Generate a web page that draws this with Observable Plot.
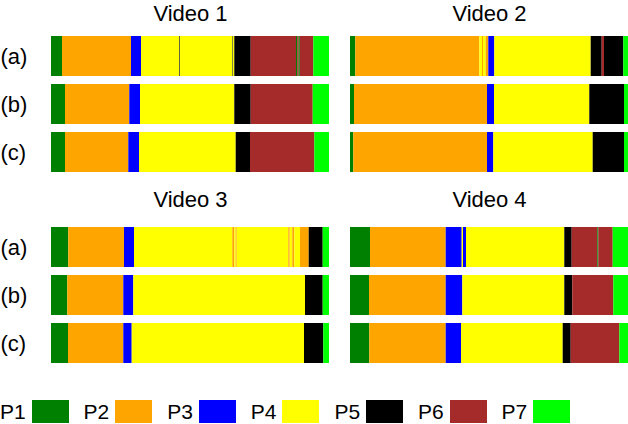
<!DOCTYPE html>
<html><head><meta charset="utf-8">
<script src="https://cdn.jsdelivr.net/npm/d3@7"></script>
<script src="https://cdn.jsdelivr.net/npm/@observablehq/plot@0.6"></script>
<style>
body{margin:0;background:#fff;font-family:"Liberation Sans",Arial,sans-serif;}
#chart{width:628px;height:424px;position:relative;overflow:hidden;background:#fff}
#legend{position:absolute;left:0;top:385px;width:628px;height:39px}
.item{position:absolute;top:15px;height:23px;display:flex;align-items:center;gap:6px;font-size:21px;color:#000;line-height:1}
.sw{width:37px;height:23px}
</style></head><body><div id="chart"></div>
<script>
const phases = ["P1","P2","P3","P4","P5","P6","P7"];
const colors = ["#008000","#ffa500","#0000ff","#ffff00","#000000","#a52a2a","#00ff00"];
const rows = ["(a)","(b)","(c)"];
const videos = ["Video 1","Video 2","Video 3","Video 4"];
const videoCols = ["L","R","L","R"];
const videoPanelRows = ["T","T","B","B"];

// segments as [phase, end position] (position units: 0..278 across the bar)
const video1a = [["P1",11],["P2",80],["P3",90],["P4",128.4],["P5",129.0],["P4",181.2],["P5",181.8],["P4",183.3],["P5",199.7],["P6",245],["P1",246.2],["P6",247.6],["P1",248.8],["P6",262.3],["P7",278]];
const video1b = [["P1",14],["P2",78.3],["P3",89],["P4",183.3],["P5",199.7],["P6",261.7],["P7",278]];
const video1c = [["P1",14],["P2",77.3],["P3",88],["P4",184.7],["P5",199],["P6",263.3],["P7",278]];
const video2a = [["P1",5.3],["P2",129.3],["P4",132],["P2",133],["P4",135.7],["P2",138.3],["P3",144.3],["P4",240.7],["P5",251.7],["P6",254],["P5",273.3],["P7",278]];
const video2b = [["P1",4],["P2",137],["P3",144],["P4",239.3],["P5",274],["P7",278]];
const video2c = [["P1",3.3],["P2",137],["P3",143.3],["P4",242.7],["P5",274],["P7",278]];
const video3a = [["P1",17.3],["P2",73],["P3",83],["P4",181.3],["P2",183.3],["P4",184.7],["P2",185.7],["P4",237.3],["P2",238.7],["P4",241.3],["P2",243.3],["P4",249],["P2",257.7],["P5",271.7],["P7",278]];
const video3b = [["P1",16.3],["P2",72.3],["P3",82.3],["P4",254],["P5",271.7],["P7",278]];
const video3c = [["P1",17],["P2",72.3],["P3",80.7],["P4",253],["P5",272.3],["P7",278]];
const video4a = [["P1",20],["P2",95.7],["P3",111.7],["P4",113],["P3",116],["P4",214.3],["P5",221.7],["P6",247.3],["P1",248.3],["P6",262.7],["P7",278]];
const video4b = [["P1",19],["P2",95.7],["P3",112.3],["P4",214.3],["P5",222.3],["P6",263.3],["P7",278]];
const video4c = [["P1",19.3],["P2",95.7],["P3",111],["P4",212.7],["P5",220.7],["P6",269.3],["P7",278]];

const videoRows = [
  [video1a, video1b, video1c],
  [video2a, video2b, video2c],
  [video3a, video3b, video3c],
  [video4a, video4b, video4c]
];

const table = [];
videoRows.forEach((rs, vi) => {
  rs.forEach((segs, ri) => {
    let start = 0;
    segs.forEach(([phase, end]) => {
      table.push({video: videos[vi], col: videoCols[vi], prow: videoPanelRows[vi], row: rows[ri], phase, start, end});
      start = end;
    });
  });
});

const titles = videos.map((v, i) => ({text: v, col: videoCols[i], prow: videoPanelRows[i]}));
const rowLabels = [];
videos.forEach((v, i) => {
  if (videoCols[i] === "L") rows.forEach(r => rowLabels.push({row: r, col: "L", prow: videoPanelRows[i]}));
});

const font = '"Liberation Sans", Arial, sans-serif';
const chart = Plot.plot({
  width: 628, height: 385,
  marginLeft: 51, marginRight: 0, marginTop: 36, marginBottom: 22,
  facetMarginTop: 0, facetMarginBottom: 0, facetMarginLeft: 0, facetMarginRight: 0,
  style: {fontFamily: font, fontSize: "22px", background: "white", color: "black", overflow: "visible"},
  x: {domain: [0, 278], axis: null},
  y: {domain: rows, axis: null, paddingInner: 8/48, paddingOuter: 0},
  fx: {domain: ["L","R"], axis: null, paddingInner: 21/299, paddingOuter: 0},
  fy: {domain: ["T","B"], axis: null, paddingInner: 55/191, paddingOuter: 0},
  color: {domain: phases, range: colors},
  marks: [
    Plot.barX(table, {x1: "start", x2: "end", y: "row", fill: "phase", fx: "col", fy: "prow"}),
    Plot.text(titles.filter(d => d.prow === "T"), {text: "text", fx: "col", fy: "prow", frameAnchor: "top", lineAnchor: "bottom", dy: -16, fontSize: 22, fill: "black"}),
    Plot.text(titles.filter(d => d.prow === "B"), {text: "text", fx: "col", fy: "prow", frameAnchor: "top", lineAnchor: "bottom", dy: -20.5, fontSize: 22, fill: "black"}),
    Plot.text(rowLabels, {text: "row", y: "row", fx: "col", fy: "prow", frameAnchor: "left", textAnchor: "start", dx: -51, fontSize: 22, fill: "black"})
  ]
});

const container = document.getElementById("chart");
container.appendChild(chart);

const legend = document.createElement("div");
legend.id = "legend";
phases.forEach((p, i) => {
  const item = document.createElement("div");
  item.className = "item";
  item.style.left = (i * 83.6) + "px";
  const t = document.createElement("span");
  t.textContent = p;
  const sw = document.createElement("div");
  sw.className = "sw";
  sw.style.background = colors[i];
  item.appendChild(t);
  item.appendChild(sw);
  legend.appendChild(item);
});
container.appendChild(legend);
</script>
</body></html>
